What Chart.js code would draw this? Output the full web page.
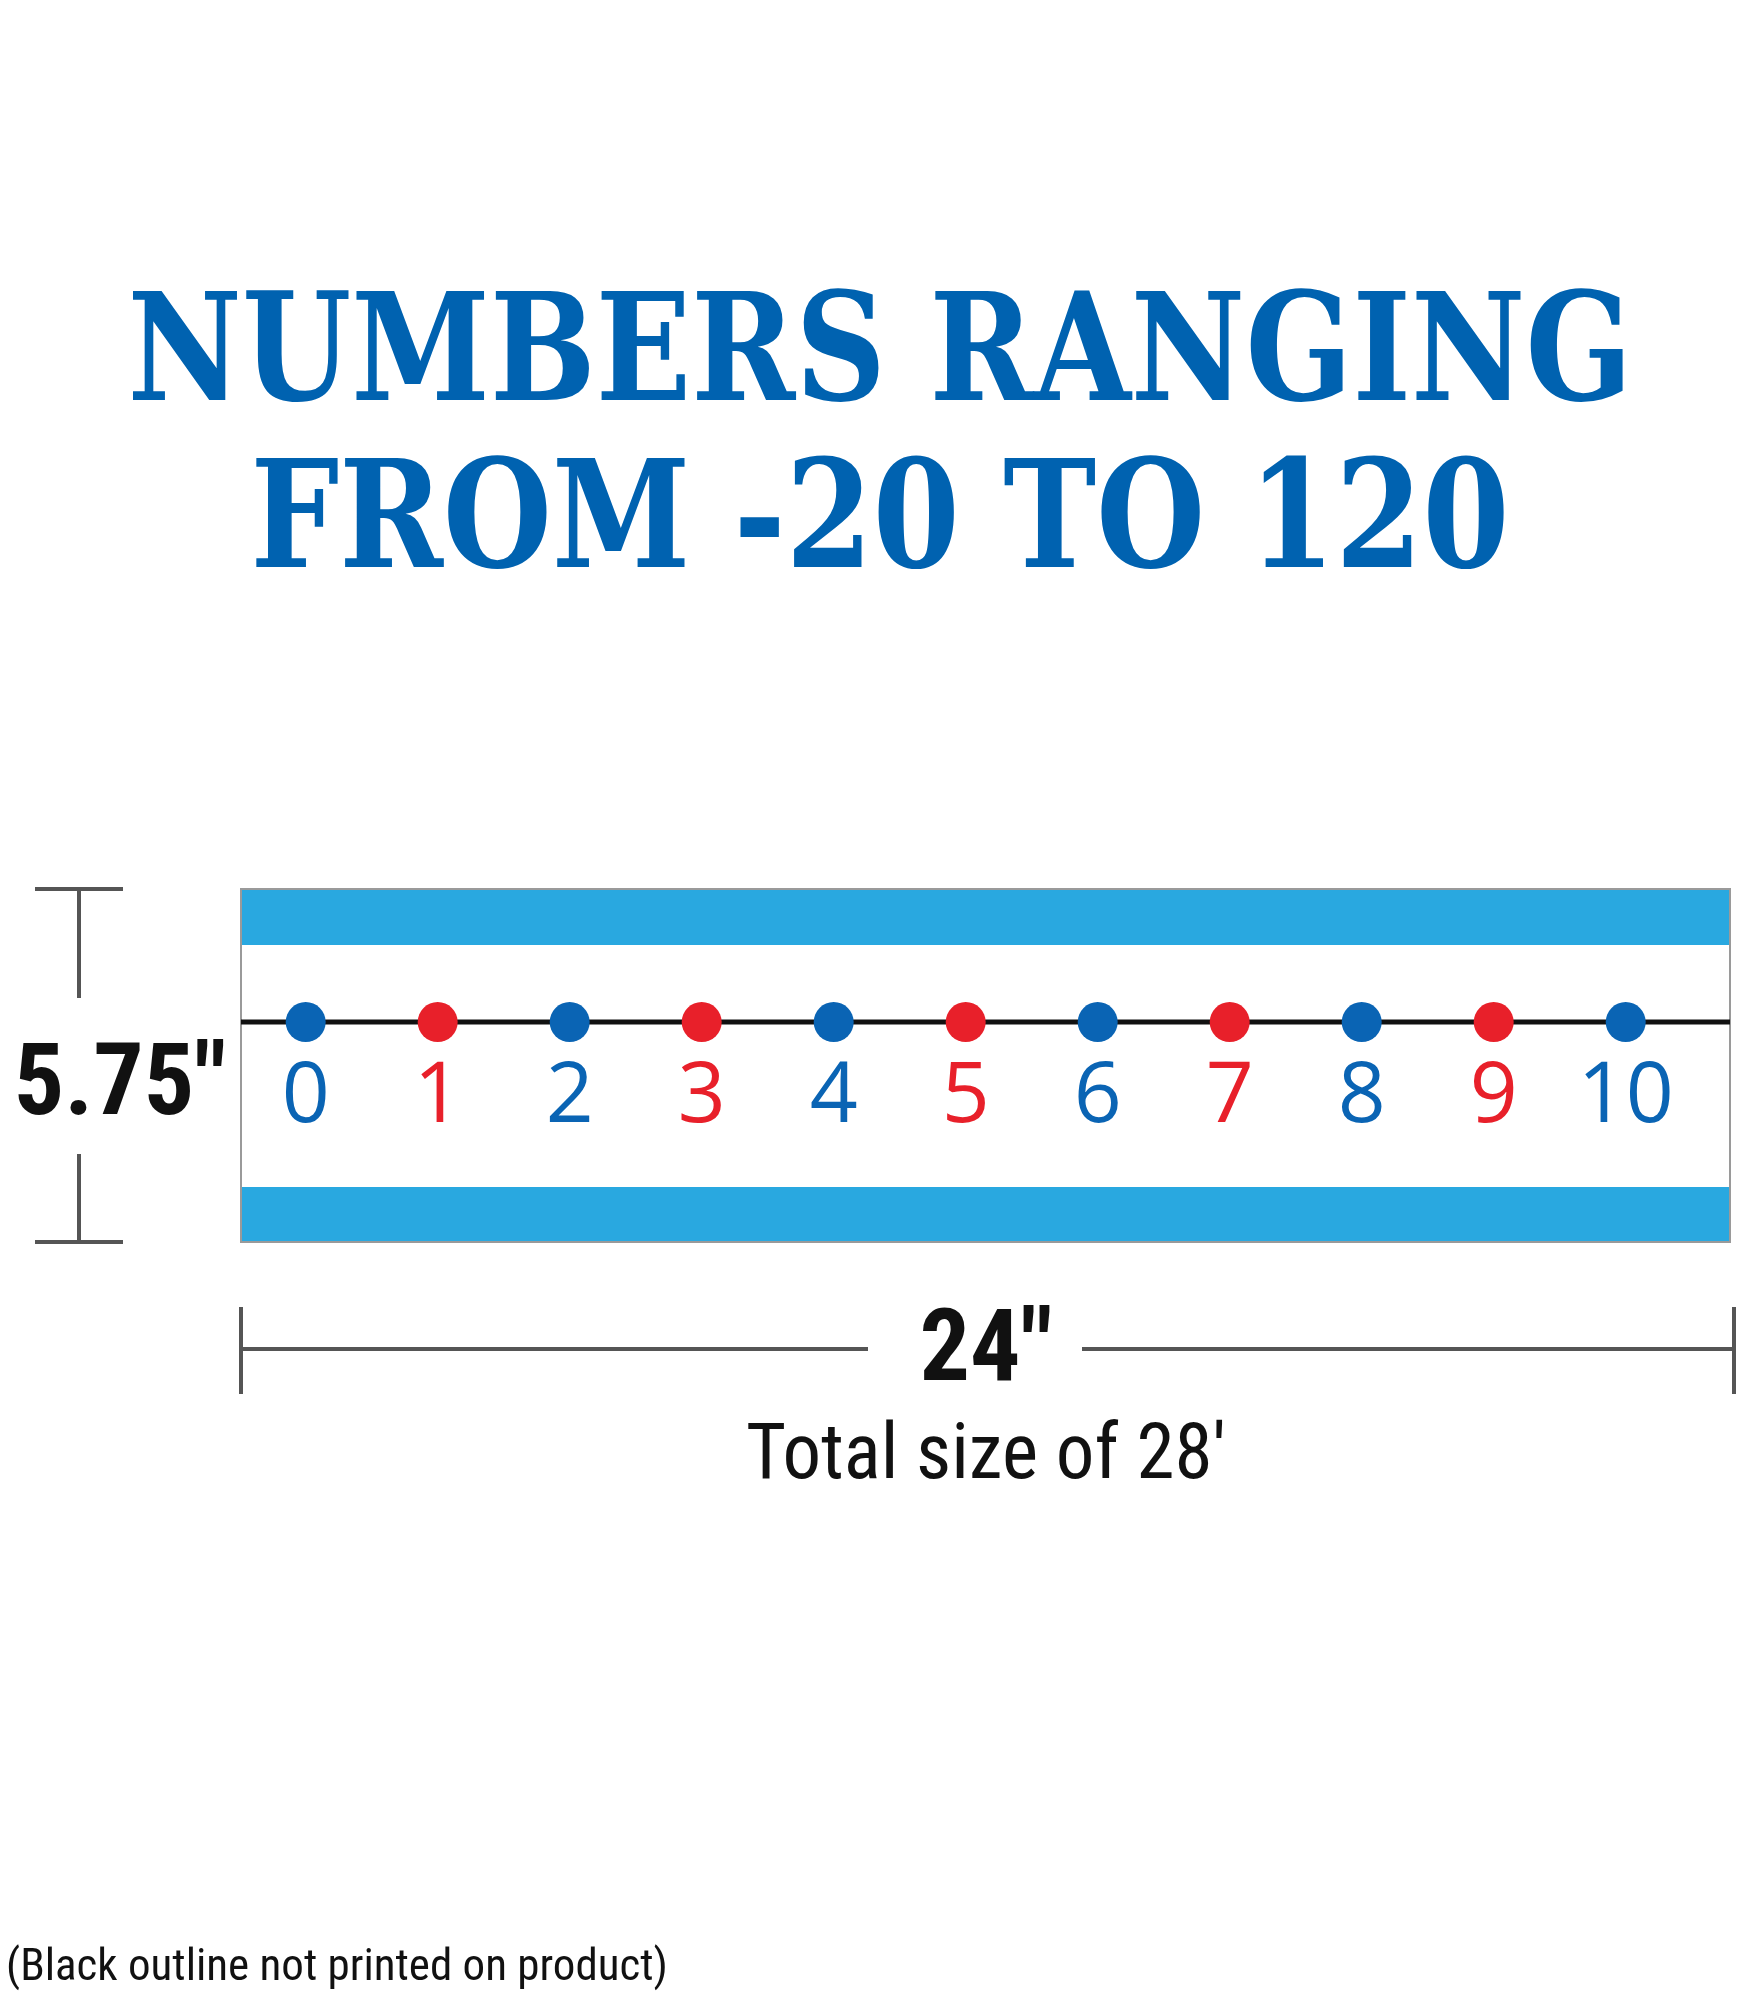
<!DOCTYPE html>
<html><head><meta charset="utf-8">
<script src="https://cdn.jsdelivr.net/npm/chart.js@4"></script>
<style>html,body{margin:0;padding:0;background:#fff}canvas{display:block}</style>
</head><body>
<canvas id="c" width="1750" height="2000"></canvas>
<script>
const numbers = [0,1,2,3,4,5,6,7,8,9,10];
const dotColors = ['#0a64b4','#e8202a','#0a64b4','#e8202a','#0a64b4','#e8202a','#0a64b4','#e8202a','#0a64b4','#e8202a','#0a64b4'];
const lineY = 0.623;
const titleLines = ['NUMBERS RANGING','FROM -20 TO 120'];
const heightLabel = '5.75"';
const widthLabel = '24"';
const totalLabel = "Total size of 28'";
const footnote = '(Black outline not printed on product)';

const NARROW = '"Liberation Sans Narrow","Roboto Condensed","Liberation Sans",sans-serif';
function fitText(ctx, txt, cx, y, w, font){
  ctx.save(); ctx.font = font;
  const m = ctx.measureText(txt).width;
  ctx.translate(cx, y); ctx.scale(w/m, 1);
  ctx.textAlign='center'; ctx.fillText(txt, 0, 0); ctx.restore();
}
const deco = {
  id:'deco',
  beforeDatasetsDraw(chart){
    const {ctx, chartArea:a} = chart;
    ctx.save();
    ctx.fillStyle='#fff'; ctx.fillRect(a.left,a.top,a.right-a.left,a.bottom-a.top);
    ctx.fillStyle='#29a8e0';
    ctx.fillRect(a.left,a.top,a.right-a.left,56);
    ctx.fillRect(a.left,a.bottom-55,a.right-a.left,55);
    ctx.strokeStyle='#9a9a9a'; ctx.lineWidth=2;
    ctx.strokeRect(a.left,a.top,a.right-a.left,a.bottom-a.top);
    ctx.restore();
  },
  afterDatasetsDraw(chart){
    const {ctx, scales:{x}} = chart;
    ctx.save();
    ctx.font='400 84px "Open Sans",sans-serif'; ctx.textAlign='center'; ctx.textBaseline='alphabetic';
    numbers.forEach((n,i)=>{ ctx.fillStyle=dotColors[i]; ctx.fillText(String(n), x.getPixelForValue(n), 1122); });
    ctx.fillStyle='#0062b0';
    fitText(ctx,titleLines[0],880,400,1505,'bold 150px "DejaVu Serif",serif');
    fitText(ctx,titleLines[1],880,567,1259,'bold 150px "DejaVu Serif",serif');
    ctx.strokeStyle='#555'; ctx.lineWidth=4;
    ctx.beginPath();
    ctx.moveTo(35,889); ctx.lineTo(123,889);
    ctx.moveTo(79,889); ctx.lineTo(79,998);
    ctx.moveTo(79,1154); ctx.lineTo(79,1242);
    ctx.moveTo(35,1242); ctx.lineTo(123,1242);
    ctx.moveTo(241,1307); ctx.lineTo(241,1394);
    ctx.moveTo(241,1349); ctx.lineTo(868,1349);
    ctx.moveTo(1082,1349); ctx.lineTo(1734,1349);
    ctx.moveTo(1734,1307); ctx.lineTo(1734,1394);
    ctx.stroke();
    ctx.fillStyle='#111'; ctx.textAlign='center';
    ctx.font='bold 100px '+NARROW; ctx.fillText(heightLabel,120,1114);
    ctx.font='bold 100px '+NARROW; ctx.fillText(widthLabel,986,1380);
    ctx.font='400 77px '+NARROW; ctx.fillText(totalLabel,986,1478);
    ctx.textAlign='left'; ctx.font='400 45px '+NARROW; ctx.fillText(footnote,6,1980);
    ctx.restore();
  }
};
new Chart(document.getElementById('c'),{
  type:'scatter',
  data:{datasets:[
    {data:numbers.map(n=>({x:n,y:lineY})),pointRadius:20,pointHoverRadius:20,
     pointBackgroundColor:dotColors,pointBorderWidth:0,showLine:false,order:0},
    {data:[{x:-0.49,y:lineY},{x:10.79,y:lineY}],showLine:true,borderColor:'#111',borderWidth:5,pointRadius:0,order:1}
  ]},
  options:{responsive:false,animation:false,devicePixelRatio:1,
    layout:{padding:{left:241,right:8,top:889,bottom:758}},
    plugins:{legend:{display:false},tooltip:{enabled:false}},
    scales:{x:{type:'linear',min:-0.49,max:10.79,display:false},y:{min:0,max:1,display:false}}},
  plugins:[deco]
});
</script></body></html>
